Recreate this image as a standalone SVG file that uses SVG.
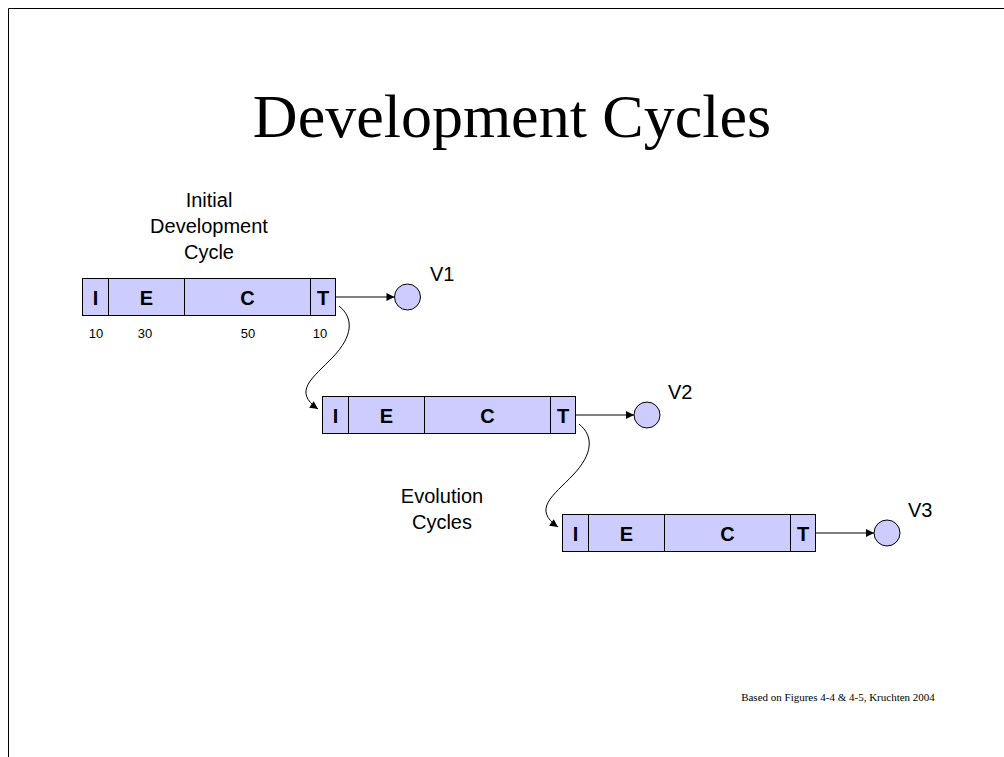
<svg xmlns="http://www.w3.org/2000/svg" width="1004" height="757" viewBox="0 0 1004 757">
  <style>
    .frame { stroke: #000; stroke-width: 1; fill: none; }
    .seg { fill: #ccccff; stroke: #000; stroke-width: 1; }
    .phase { font-family: "Liberation Sans", Arial, sans-serif; font-weight: bold; font-size: 20px; text-anchor: middle; fill: #000; }
    .pct { font-family: "Liberation Sans", Arial, sans-serif; font-size: 13px; text-anchor: middle; fill: #000; }
    .lbl { font-family: "Liberation Sans", Arial, sans-serif; font-size: 20px; text-anchor: middle; fill: #000; }
    .ver { font-family: "Liberation Sans", Arial, sans-serif; font-size: 20px; fill: #000; }
    .title { font-family: "Liberation Serif", "Times New Roman", serif; font-size: 62px; text-anchor: middle; fill: #000; }
    .note { font-family: "Liberation Serif", "Times New Roman", serif; font-size: 11px; text-anchor: middle; fill: #000; }
    .wire { stroke: #000; stroke-width: 1; fill: none; marker-end: url(#head); }
    .release { fill: #ccccff; stroke: #000; stroke-width: 1; }
  </style>
  <defs>
    <marker id="head" viewBox="0 0 10 10" refX="10" refY="5" markerWidth="10" markerHeight="8" markerUnits="userSpaceOnUse" orient="auto">
      <path d="M0,0 L10,5 L0,10 Z" fill="#000"/>
    </marker>
    <!-- one cycle bar: Inception / Elaboration / Construction / Transition -->
    <g id="cycle">
      <rect class="seg" x="0" y="0" width="26" height="37"/>
      <rect class="seg" x="26" y="0" width="76" height="37"/>
      <rect class="seg" x="102" y="0" width="126" height="37"/>
      <rect class="seg" x="228" y="0" width="25" height="37"/>
      <text class="phase" x="13" y="26">I</text>
      <text class="phase" x="64" y="26">E</text>
      <text class="phase" x="165" y="26">C</text>
      <text class="phase" x="240.5" y="26">T</text>
    </g>
  </defs>

  <!-- page frame -->
  <line class="frame" x1="8.5" y1="8.5" x2="1004" y2="8.5" stroke="#444"/>
  <line class="frame" x1="8.5" y1="8.5" x2="8.5" y2="757"/>

  <text class="title" x="512" y="137">Development Cycles</text>

  <g id="label-initial">
    <text class="lbl" x="209" y="207">Initial</text>
    <text class="lbl" x="209" y="233">Development</text>
    <text class="lbl" x="209" y="259">Cycle</text>
  </g>

  <g id="label-evolution">
    <text class="lbl" x="442" y="503">Evolution</text>
    <text class="lbl" x="442" y="529">Cycles</text>
  </g>

  <g id="cycle1">
    <use href="#cycle" x="82.5" y="278.5"/>
    <text class="pct" x="96" y="338">10</text>
    <text class="pct" x="145" y="338">30</text>
    <text class="pct" x="248" y="338">50</text>
    <text class="pct" x="320" y="338">10</text>
  </g>

  <g id="cycle2">
    <use href="#cycle" x="322.5" y="396.5"/>
  </g>

  <g id="cycle3">
    <use href="#cycle" x="562.5" y="514.5"/>
  </g>

  <g id="v1">
    <circle class="release" cx="407.5" cy="297" r="13"/>
    <text class="ver" x="430" y="281">V1</text>
  </g>
  <g id="v2">
    <circle class="release" cx="647" cy="415" r="13"/>
    <text class="ver" x="668" y="399">V2</text>
  </g>
  <g id="v3">
    <circle class="release" cx="887" cy="533" r="13"/>
    <text class="ver" x="908" y="517">V3</text>
  </g>

  <g id="connectors">
    <line class="wire" x1="335.5" y1="297" x2="394.5" y2="297"/>
    <line class="wire" x1="575.5" y1="415" x2="634" y2="415"/>
    <line class="wire" x1="815.5" y1="533" x2="874" y2="533"/>
    <path class="wire" d="M339,306 C354,318 353,336 333,357 C313,378 292,391 318,409"/>
    <path class="wire" d="M579,424 C594,436 593,454 573,475 C553,496 532,509 558,527"/>
  </g>

  <text class="note" x="838" y="701">Based on Figures 4-4 &amp; 4-5, Kruchten 2004</text>
</svg>
